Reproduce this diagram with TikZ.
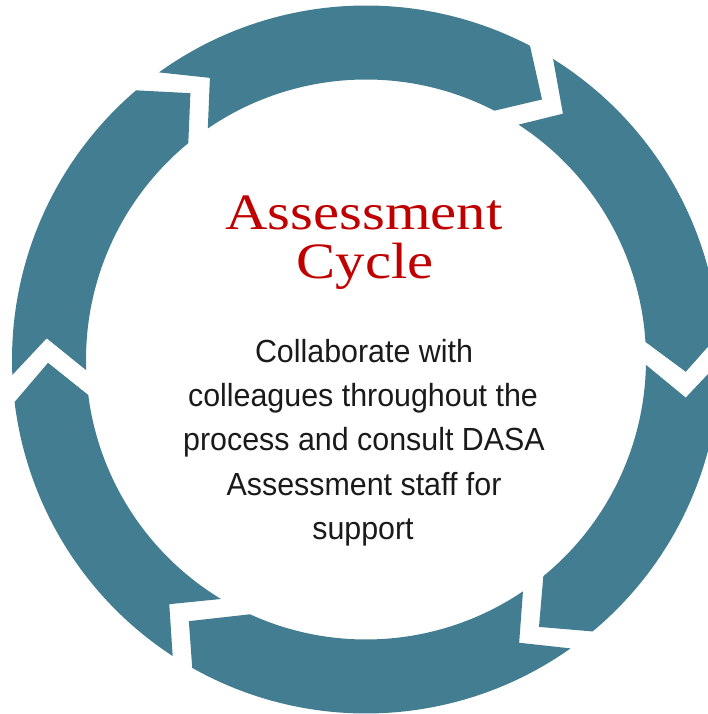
\documentclass[tikz,border=0pt]{standalone}
\usepackage{fontspec}
\setmainfont{Liberation Serif}
\newfontfamily\titlefont{Liberation Serif}[FakeStretch=1.15]
\newfontfamily\bodyfont{Liberation Sans}[FakeStretch=0.95]
\definecolor{ringteal}{HTML}{437D92}
\definecolor{titlered}{HTML}{C00000}
\definecolor{bodyblack}{HTML}{1A1A1A}
\def\Ro{354pt}
\def\Ri{280pt}
% #1 tail outer, #2 notch angle, #3 notch radius, #4 tail inner,
% #5 head outer, #6 tip angle, #7 tip radius, #8 head inner
\newcommand\ringseg[8]{%
  \fill[ringteal] (#1:\Ro) arc[start angle=#1, end angle=#5, radius=\Ro]
    -- (#6:#7pt) -- (#8:\Ri) arc[start angle=#8, end angle=#4, radius=\Ri]
    -- (#2:#3pt) -- cycle;}
\tikzset{
  titletext/.style={font=\titlefont\fontsize{51}{51}\selectfont, text=titlered, anchor=base, inner sep=0pt},
  bodytext/.style={font=\bodyfont\fontsize{32}{32}\selectfont, text=bodyblack, anchor=base, inner sep=0pt}
}
\begin{document}
\begin{tikzpicture}[x=1pt,y=1pt]
\useasboundingbox (0,0) rectangle (708,714);
\clip (0,0) rectangle (708,714);
\begin{scope}[shift={(366,354.5)}]
  \ringseg{182.5}{176.2}{320}{182.2}{130.5}{123.4}{319}{129.4}
  \ringseg{125.8}{119.0}{322}{124.4}{62.4}{55.9}{314}{62.7}
  \ringseg{58.1}{51.3}{315}{57.0}{4.1}{-2.2}{320}{3.6}
  \ringseg{-0.3}{-6.8}{322}{-1.1}{-50.2}{-57.1}{318.5}{-50.7}
  \ringseg{-54.7}{-61.6}{322}{-55.9}{-119.4}{-124.1}{316}{-114.5}
  \ringseg{-123.1}{-128.8}{314}{-121.2}{-173.1}{-179.4}{318}{-172.7}
\end{scope}
\node[titletext] (t1) at (364,484) {Assessment};
\node[titletext] (t2) at (365,435) {Cycle};
\node[bodytext] (b1) at (364,351.7) {Collaborate with};
\node[bodytext] (b2) at (363,307.3) {colleagues throughout the};
\node[bodytext] (b3) at (364,263.3) {process and consult DASA};
\node[bodytext] (b4) at (364,218.3) {Assessment staff for};
\node[bodytext] (b5) at (363,174) {support};
\end{tikzpicture}
\end{document}
